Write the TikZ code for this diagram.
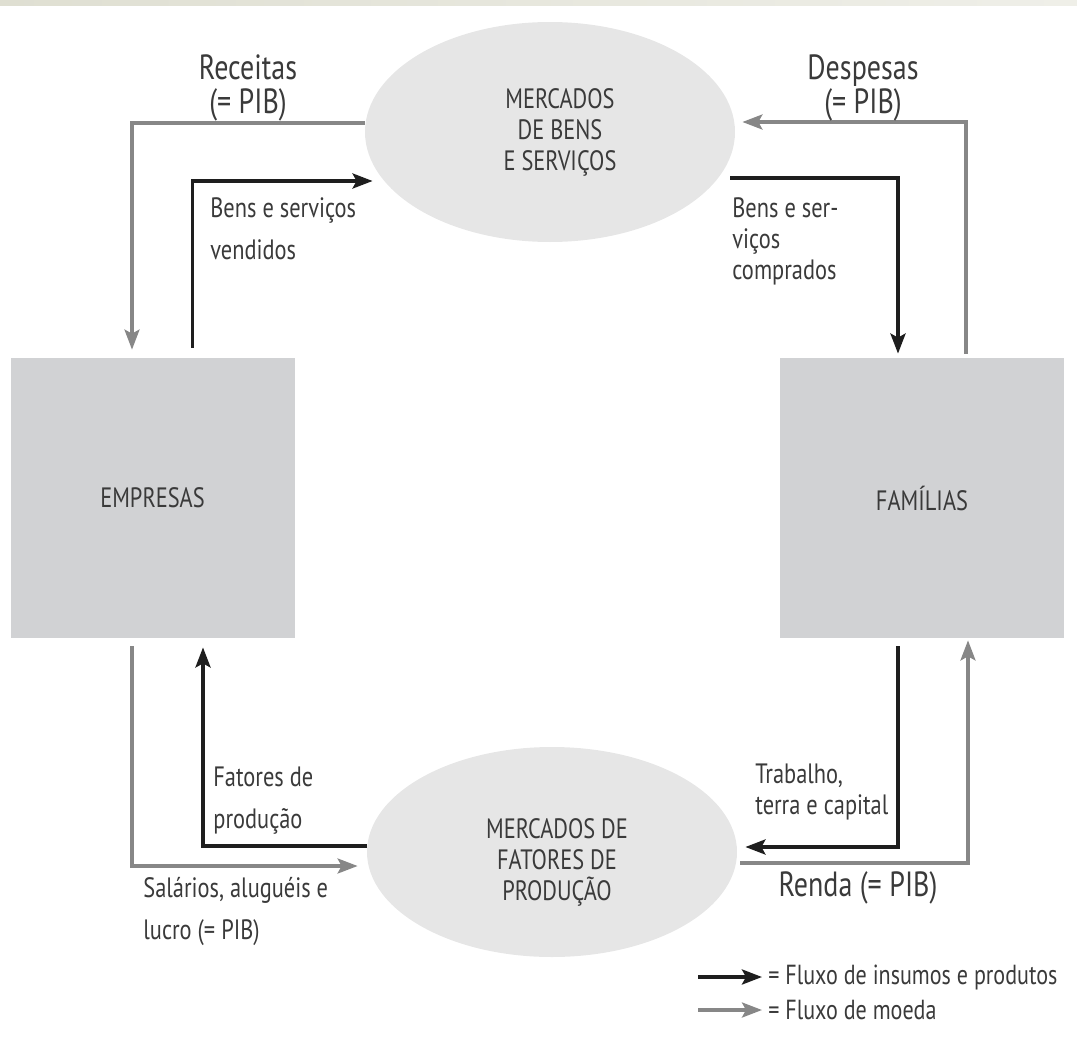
\documentclass[tikz,border=0pt]{standalone}
\usepackage{fontspec}
\setmainfont{PT Sans}[FakeStretch=0.8]
\usetikzlibrary{arrows.meta}
\usetikzlibrary{shapes.geometric}
\usetikzlibrary{positioning}

\definecolor{caixa}{HTML}{D1D2D4}
\definecolor{bolha}{HTML}{E6E6E6}
\definecolor{cinza}{HTML}{878787}
\definecolor{preto}{HTML}{1E1E1E}
\definecolor{texto}{HTML}{3A3A3A}
\definecolor{faixa}{HTML}{DFDFD2}

\begin{document}
\begin{tikzpicture}[x=0.5pt,y=-0.5pt,
    agente/.style={rectangle,fill=caixa,minimum width=142pt,minimum height=140pt,
      inner sep=0pt,text=texto,font=\fontsize{14}{15.5}\selectfont},
    mercado/.style={ellipse,fill=bolha,minimum width=185pt,inner sep=0pt},
    rotulo/.style={text=texto,font=\fontsize{14}{15.5}\selectfont,inner sep=0pt},
    rotulogrande/.style={rotulo,font=\fontsize{17.5}{17}\selectfont},
    legenda/.style={rotulo,font=\fontsize{13.8}{15}\selectfont},
    fluxo/.style={preto,line width=1.8pt,-{Stealth[length=10pt,width=7.5pt,inset=2pt]}},
    moeda/.style={cinza,line width=1.6pt,-{Stealth[length=10pt,width=7.5pt,inset=2pt]}}]
      \useasboundingbox (0,0) rectangle (1077,1049);
      \fill[left color=faixa,right color=faixa!50!white] (0,0) rectangle (1077,5);

      % agentes e mercados
      \node[agente] (empresas) at (152.5,498) {EMPRESAS};
      \node[agente] (familias) at (922,498) {FAMÍLIAS};
      \node[mercado,minimum height=110pt,
        label={[rotulo,align=center,xshift=5pt]center:{MERCADOS\\DE BENS\\E SERVIÇOS}}] (bens) at (550,132) {};
      \node[mercado,minimum height=105pt,
        label={[rotulo,align=center,xshift=2.5pt,yshift=-5pt]center:{MERCADOS DE\\FATORES DE\\PRODUÇÃO}}] (fatores) at (552,852) {};

      % fluxos de cima
      \draw[moeda,shorten >=4pt] ([yshift=4.5pt]bens.west) -| ([xshift=-10.25pt]empresas.north);
      \draw[fluxo,shorten <=5pt] ([xshift=20pt]empresas.north) |- ([shift={(4pt,-24.5pt)}]bens.west);
      \draw[moeda,shorten <=2pt] ([xshift=22pt]familias.north) |- ([shift={(3.5pt,5pt)}]bens.east);
      \draw[fluxo,shorten >=2pt] ([shift={(-2.5pt,-23pt)}]bens.east) -| ([xshift=-12pt]familias.north);

      % fluxos de baixo
      \draw[fluxo,shorten >=4.5pt] ([yshift=3pt]fatores.west) -| ([xshift=25.25pt]empresas.south);
      \draw[moeda,shorten <=4pt] ([xshift=-10.25pt]empresas.south) |- ([shift={(-4.5pt,-7pt)}]fatores.west);
      \draw[fluxo,shorten <=4pt] ([xshift=-12pt]familias.south) |- ([shift={(4pt,2.5pt)}]fatores.east);
      \draw[moeda,shorten >=1pt] ([shift={(1.5pt,-5.5pt)}]fatores.east) -| ([xshift=23pt]familias.south);

      \node[rotulogrande,align=center] (receitas) at (248,88) {Receitas\\(= PIB)};
      \node[rotulogrande,align=center] (despesas) at (863,88) {Despesas\\(= PIB)};
      \node[rotulo,align=left,anchor=west] (vendidos) at (210,229) {Bens e serviços\\[5.5pt]vendidos};
      \node[rotulo,align=left,anchor=west] (comprados) at (732,241) {Bens e ser-\\viços\\comprados};
      \node[rotulo,align=left,anchor=west] (producao) at (213,801) {Fatores de\\[5.5pt]produção};
      \node[rotulo,align=left,anchor=west] (trabalho) at (755,792) {Trabalho,\\terra e capital};
      \node[rotulo,align=left,anchor=west] (salarios) at (143,911) {Salários, aluguéis e\\[5.5pt]lucro (= PIB)};
      \node[rotulogrande] (renda) at (858,888) {Renda (= PIB)};

      % legenda
      \coordinate (l1a) at (698,977);
      \coordinate (l1b) at (762,977);
      \coordinate (l2a) at (698,1010);
      \coordinate (l2b) at (762,1010);
      \draw[fluxo] (l1a) -- (l1b);
      \draw[moeda] (l2a) -- (l2b);
      \node[legenda,right=3pt of l1b] (leg1) {= Fluxo de insumos e produtos};
      \node[legenda,right=3pt of l2b] (leg2) {= Fluxo de moeda};
    \end{tikzpicture}
\end{document}
